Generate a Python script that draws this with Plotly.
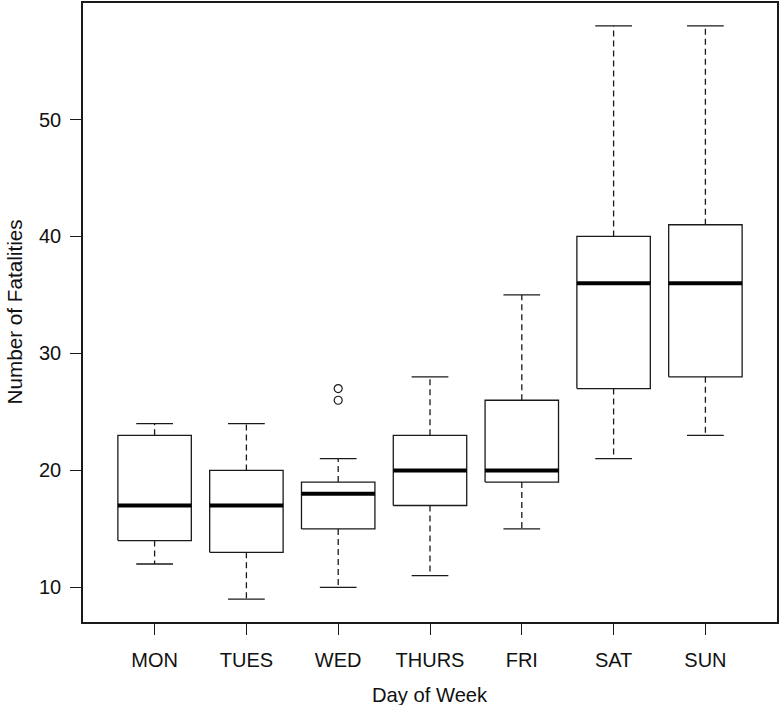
import plotly.graph_objects as go

days = ["MON", "TUES", "WED", "THURS", "FRI", "SAT", "SUN"]
lower_whisker = [12, 9, 10, 11, 15, 21, 23]
q1 = [14, 13, 15, 17, 19, 27, 28]
median = [17, 17, 18, 20, 20, 36, 36]
q3 = [23, 20, 19, 23, 26, 40, 41]
upper_whisker = [24, 24, 21, 28, 35, 58, 58]
outlier_day = ["WED", "WED"]
outlier_val = [26, 27]
y_ticks = [10, 20, 30, 40, 50]

BOXW = 0.4   # half box width (boxwex 0.8)
CAPW = 0.2   # half staple width
INK = "#1a1a1a"
FONT = "Liberation Sans, Arial, Helvetica, sans-serif"

pos = {d: i + 1 for i, d in enumerate(days)}

bx, by, mx, my, wx, wy, cx, cy = [], [], [], [], [], [], [], []
for d, lo, a, m, b, hi in zip(days, lower_whisker, q1, median, q3, upper_whisker):
    p = pos[d]
    bx += [p - BOXW, p + BOXW, p + BOXW, p - BOXW, p - BOXW, None]
    by += [a, a, b, b, a, None]
    mx += [p - BOXW, p + BOXW, None]
    my += [m, m, None]
    wx += [p, p, None, p, p, None]
    wy += [b, hi, None, a, lo, None]
    cx += [p - CAPW, p + CAPW, None, p - CAPW, p + CAPW, None]
    cy += [hi, hi, None, lo, lo, None]

fig = go.Figure()
fig.add_trace(go.Scatter(x=wx, y=wy, mode="lines",
                         line=dict(color=INK, width=1.3, dash="6px,4px"),
                         hoverinfo="skip", showlegend=False))
fig.add_trace(go.Scatter(x=cx, y=cy, mode="lines",
                         line=dict(color=INK, width=1.3),
                         hoverinfo="skip", showlegend=False))
fig.add_trace(go.Scatter(x=bx, y=by, mode="lines",
                         line=dict(color=INK, width=1.3),
                         hoverinfo="skip", showlegend=False))
fig.add_trace(go.Scatter(x=mx, y=my, mode="lines",
                         line=dict(color="#000000", width=4),
                         hoverinfo="skip", showlegend=False))
fig.add_trace(go.Scatter(x=[pos[d] for d in outlier_day], y=outlier_val,
                         mode="markers",
                         marker=dict(symbol="circle-open", size=8,
                                     color=INK, line=dict(width=1.2)),
                         showlegend=False))

fig.update_layout(
    width=780, height=705,
    margin=dict(l=83, r=2, t=1, b=83),
    paper_bgcolor="white", plot_bgcolor="white",
    font=dict(family=FONT, size=20, color="#111111"),
    showlegend=False,
)
fig.update_xaxes(
    range=[0.22, 7.78], tickvals=[pos[d] for d in days], ticktext=days,
    showgrid=False, zeroline=False,
    showline=True, linecolor=INK, linewidth=1.5, mirror=True,
    ticks="outside", ticklen=11, tickwidth=1.3, tickcolor=INK,
    ticklabelstandoff=8,
)
fig.update_yaxes(
    range=[7.04, 59.96], tickvals=y_ticks,
    showgrid=False, zeroline=False,
    showline=True, linecolor=INK, linewidth=1.5, mirror=True,
    ticks="outside", ticklen=11, tickwidth=1.3, tickcolor=INK,
    ticklabelstandoff=5,
)
fig.add_annotation(text="Day of Week", xref="paper", yref="paper",
                   x=0.5, y=0, yshift=-73, showarrow=False,
                   font=dict(size=20.2), xanchor="center", yanchor="middle")
fig.add_annotation(text="Number of Fatalities", xref="paper", yref="paper",
                   x=0, y=0.5, xshift=-69, textangle=-90, showarrow=False,
                   font=dict(size=20.7), xanchor="center", yanchor="middle")

fig.write_html("out.html", config={"displayModeBar": False},
               post_script="document.body.style.margin='0';document.body.style.overflow='hidden';")
